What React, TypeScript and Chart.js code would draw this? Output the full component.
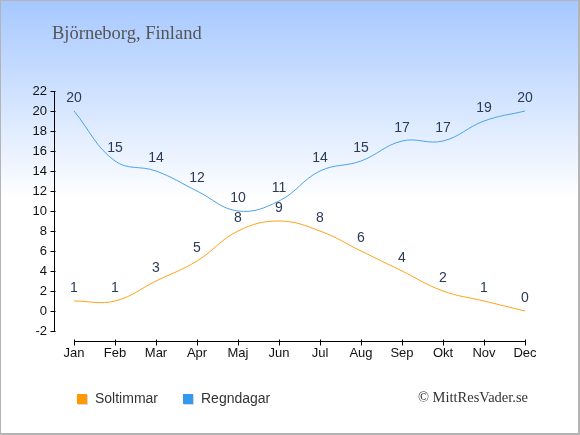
import { useEffect, useRef } from "react";
import { Chart, registerables } from "chart.js";

Chart.register(...registerables);

const months = ["Jan", "Feb", "Mar", "Apr", "Maj", "Jun", "Jul", "Aug", "Sep", "Okt", "Nov", "Dec"];
const sunHours = [1, 1, 3, 5, 8, 9, 8, 6, 4, 2, 1, 0];
const rainDays = [20, 15, 14, 12, 10, 11, 14, 15, 17, 17, 19, 20];
const seriesNames = ["Soltimmar", "Regndagar"];
const seriesColors = ["#ffa31a", "#4aa3ee"];
const legendColors = ["#ff9900", "#3399ee"];
const yMin = -2;
const yMax = 22;
const yStep = 2;
const titleText = "Björneborg, Finland";
const creditText = "© MittResVader.se";

const decorPlugin = {
  id: "decor",
  beforeDraw(chart: any) {
    const { ctx, width, height } = chart;
    ctx.save();
    const g = ctx.createLinearGradient(0, 0, 0, 200);
    g.addColorStop(0, "#a6c8ff");
    g.addColorStop(1, "#ffffff");
    ctx.fillStyle = g;
    ctx.fillRect(0, 0, width, height);
    ctx.fillStyle = "#b4b4b4";
    ctx.fillRect(0, 0, width, 1);
    ctx.fillRect(0, 0, 1, height);
    ctx.fillRect(width - 2, 0, 2, height);
    ctx.fillRect(0, height - 2, width, 2);
    ctx.restore();
  },
  afterDatasetsDraw(chart: any) {
    const { ctx } = chart;
    ctx.save();
    ctx.font = "14px 'Liberation Sans', Arial, sans-serif";
    ctx.fillStyle = "#2b3a55";
    ctx.textAlign = "center";
    ctx.textBaseline = "alphabetic";
    chart.data.datasets.forEach((ds: any, i: number) => {
      const meta = chart.getDatasetMeta(i);
      meta.data.forEach((pt: any, j: number) => {
        ctx.fillText(String(ds.data[j]), pt.x, pt.y - 9);
      });
    });
    ctx.restore();
  },
  afterDraw(chart: any) {
    const { ctx, chartArea, scales } = chart;
    const xs = scales.x;
    const ys = scales.y;
    ctx.save();
    // axes
    ctx.strokeStyle = "#000000";
    ctx.lineWidth = 1;
    const ax = chartArea.left - 19.5;
    const ay = chartArea.bottom + 10.5;
    ctx.beginPath();
    ctx.moveTo(ax, ys.getPixelForValue(yMax));
    ctx.lineTo(ax, ys.getPixelForValue(yMin));
    for (let v = yMin; v <= yMax; v += yStep) {
      const py = Math.round(ys.getPixelForValue(v)) + 0.5;
      ctx.moveTo(ax - 4, py);
      ctx.lineTo(ax + 1, py);
    }
    ctx.moveTo(xs.getPixelForValue(0), ay);
    ctx.lineTo(xs.getPixelForValue(months.length - 1), ay);
    for (let i = 0; i < months.length; i++) {
      const px = Math.round(xs.getPixelForValue(i)) + 0.5;
      ctx.moveTo(px, ay - 2);
      ctx.lineTo(px, ay + 4);
    }
    ctx.stroke();

    // title
    ctx.font = "18.5px 'Liberation Serif', 'Times New Roman', serif";
    ctx.fillStyle = "#555555";
    ctx.textAlign = "left";
    ctx.textBaseline = "alphabetic";
    ctx.fillText(titleText, 52, 38.5);

    // legend
    const legendX = [77, 183];
    seriesNames.forEach((name, i) => {
      ctx.fillStyle = "rgba(0,0,0,0.15)";
      ctx.fillRect(legendX[i] + 1, 395, 10, 10);
      ctx.fillStyle = legendColors[i];
      ctx.fillRect(legendX[i], 394, 10, 10);
      ctx.font = "14px 'Liberation Sans', Arial, sans-serif";
      ctx.fillStyle = "#333333";
      ctx.fillText(name, legendX[i] + 18, 403);
    });

    // credit
    ctx.font = "14.5px 'Liberation Serif', 'Times New Roman', serif";
    ctx.fillStyle = "#333333";
    ctx.textAlign = "right";
    ctx.fillText(creditText, 528, 402);
    ctx.restore();
  },
};

export default function App() {
  const ref = useRef<HTMLCanvasElement | null>(null);

  useEffect(() => {
    document.body.style.margin = "0";
    if (!ref.current) return;
    const chart = new Chart(ref.current, {
      type: "line",
      data: {
        labels: months,
        datasets: [
          {
            label: seriesNames[0],
            data: sunHours,
            borderColor: seriesColors[0],
            backgroundColor: legendColors[0],
            borderWidth: 1,
            pointRadius: 0,
            tension: 0.4,
            fill: false,
          },
          {
            label: seriesNames[1],
            data: rainDays,
            borderColor: seriesColors[1],
            backgroundColor: legendColors[1],
            borderWidth: 1,
            pointRadius: 0,
            tension: 0.4,
            fill: false,
          },
        ],
      },
      options: {
        animation: false,
        responsive: false,
        devicePixelRatio: 1,
        layout: { padding: { top: 91, right: 55, left: 0, bottom: 0 } },
        plugins: {
          legend: { display: false },
          title: { display: false },
          tooltip: { enabled: false },
        },
        scales: {
          x: {
            type: "category",
            offset: false,
            grid: { display: false, drawTicks: false },
            border: { display: false },
            ticks: {
              color: "#111111",
              font: { family: "'Liberation Sans', Arial, sans-serif", size: 13 },
              padding: 15,
              maxRotation: 0,
              autoSkip: false,
            },
            afterFit: (s: any) => {
              s.height = 104;
            },
          },
          y: {
            min: yMin,
            max: yMax,
            grid: { display: false, drawTicks: false },
            border: { display: false },
            ticks: {
              stepSize: yStep,
              color: "#111111",
              font: { family: "'Liberation Sans', Arial, sans-serif", size: 13 },
              padding: 27,
            },
            afterFit: (s: any) => {
              s.width = 74;
            },
          },
        },
      },
      plugins: [decorPlugin],
    });
    return () => chart.destroy();
  }, []);

  return <canvas ref={ref} width={580} height={435} style={{ display: "block", width: 580, height: 435 }} />;
}
